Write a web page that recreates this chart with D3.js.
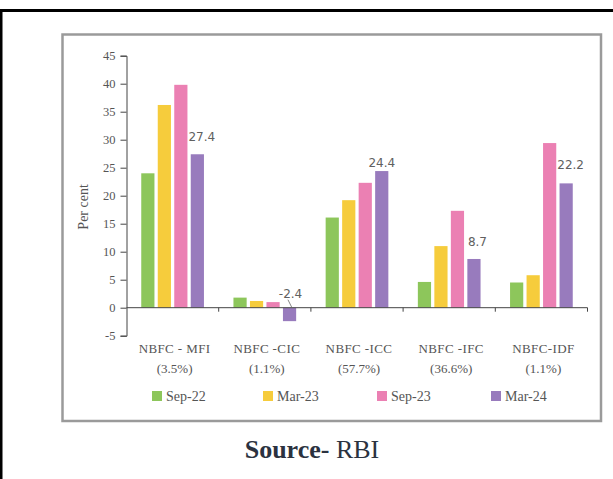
<!DOCTYPE html>
<html><head><meta charset="utf-8">
<script src="https://cdn.jsdelivr.net/npm/d3@7/dist/d3.min.js"></script>
<style>html,body{margin:0;padding:0;background:#fff;}svg{display:block;}</style>
</head><body>
<svg id="c" width="613" height="479"></svg>
<script>
const categories = ["NBFC - MFI", "NBFC -CIC", "NBFC -ICC", "NBFC -IFC", "NBFC-IDF"];
const shares = ["(3.5%)", "(1.1%)", "(57.7%)", "(36.6%)", "(1.1%)"];
const seriesNames = ["Sep-22", "Mar-23", "Sep-23", "Mar-24"];
const sep22 = [24.0, 1.8, 16.1, 4.6, 4.5];
const mar23 = [36.2, 1.2, 19.2, 11.0, 5.8];
const sep23 = [39.8, 1.0, 22.3, 17.3, 29.4];
const mar24 = [27.4, -2.4, 24.4, 8.7, 22.2];
const yTicks = [-5, 0, 5, 10, 15, 20, 25, 30, 35, 40, 45];
const labelTexts = ["27.4", "-2.4", "24.4", "8.7", "22.2"];

const seriesValues = [sep22, mar23, sep23, mar24];
const colors = ["#8dc65b", "#f6cc3c", "#eb80b3", "#987bbd"];

const svg = d3.select("#c");

// outer black frame (top and left)
svg.append("rect").attr("x", 0).attr("y", 9).attr("width", 613).attr("height", 3).attr("fill", "#000");
svg.append("rect").attr("x", 0).attr("y", 9).attr("width", 2.5).attr("height", 470).attr("fill", "#000");

// inner grey box
svg.append("rect").attr("x", 62.5).attr("y", 34.5).attr("width", 538.5).attr("height", 386.5)
  .attr("fill", "none").attr("stroke", "#9a9a9a").attr("stroke-width", 2.5);

const x0 = d3.scaleBand().domain(categories).range([126.5, 587.5]).paddingInner(0).paddingOuter(0);
const x1 = d3.scaleBand().domain(seriesNames).range([0, x0.bandwidth()]).paddingInner(0.2).paddingOuter(0.894);
const y = d3.scaleLinear().domain([-5, 45]).range([335.7, 55.7]);

const serif = "'Liberation Serif', 'DejaVu Serif', serif";
const txtCol = "#555";

// bars
seriesNames.forEach((s, si) => {
  svg.append("g").selectAll("rect").data(categories).join("rect")
    .attr("x", c => x0(c) + x1(s))
    .attr("width", x1.bandwidth())
    .attr("y", (c, i) => y(Math.max(0, seriesValues[si][i])))
    .attr("height", (c, i) => Math.abs(y(seriesValues[si][i]) - y(0)))
    .attr("fill", colors[si]);
});

// y axis
const yAxis = svg.append("g").attr("transform", "translate(126.5,0)")
  .call(d3.axisLeft(y).tickValues(yTicks).tickSize(6).tickSizeOuter(6).tickPadding(5).tickFormat(d => String(d)));
yAxis.selectAll("path,line").attr("stroke", "#444");
yAxis.selectAll("text").attr("font-family", serif).attr("font-size", 12.5).attr("fill", txtCol);

// x axis at zero
const xa = svg.append("g");
xa.append("line").attr("x1", 126.5).attr("x2", 587.5).attr("y1", y(0)).attr("y2", y(0)).attr("stroke", "#444");
const bounds = categories.map(c => x0(c) + x0.bandwidth());
xa.selectAll(".tk").data(bounds).join("line").attr("class", "tk")
  .attr("x1", d => d).attr("x2", d => d).attr("y1", y(0)).attr("y2", y(0) + 4).attr("stroke", "#444");

// y title
svg.append("text").attr("transform", `translate(88,${y(18)}) rotate(-90)`)
  .attr("text-anchor", "middle").attr("font-family", serif).attr("font-size", 14).attr("fill", txtCol)
  .text("Per cent");

// category labels
const cl = svg.append("g").selectAll("text").data(categories).join("text")
  .attr("x", c => x0(c) + x0.bandwidth() / 2 + 2)
  .attr("text-anchor", "middle").attr("font-family", serif).attr("font-size", 13).attr("fill", txtCol);
cl.append("tspan").attr("x", c => x0(c) + x0.bandwidth() / 2 + 2).attr("y", 353).attr("letter-spacing", 0.4).text(c => c);
cl.append("tspan").attr("x", c => x0(c) + x0.bandwidth() / 2 + 2).attr("y", 373).text((c, i) => shares[i]);

// data labels on Mar-24 bars
const labDx = [4.5, 1, 0, 3.5, 4.5];
const labDy = [-13, -10, -4, -13, -14];
svg.append("g").selectAll("text").data(categories).join("text")
  .attr("x", (c, i) => x0(c) + x1("Mar-24") + x1.bandwidth() / 2 + labDx[i])
  .attr("y", (c, i) => y(Math.max(0, mar24[i])) + labDy[i])
  .attr("text-anchor", "middle").attr("font-family", "'DejaVu Sans', sans-serif").attr("font-size", 12)
  .attr("fill", "#606060").text((c, i) => labelTexts[i]);
// leader line for negative label
svg.append("line")
  .attr("x1", x0(categories[1]) + x1("Mar-24") + 5).attr("y1", y(0) - 8)
  .attr("x2", x0(categories[1]) + x1("Mar-24") + 9).attr("y2", y(0))
  .attr("stroke", "#666").attr("stroke-width", 0.8);

// legend
const legX = [152, 263, 377, 491];
const lg = svg.append("g").selectAll("g").data(seriesNames).join("g")
  .attr("transform", (s, i) => `translate(${legX[i]},396)`);
lg.append("rect").attr("x", 0).attr("y", -5).attr("width", 10).attr("height", 10).attr("fill", (s, i) => colors[i]);
lg.append("text").attr("x", 14).attr("y", 5).attr("font-family", serif).attr("font-size", 14).attr("fill", txtCol).text(s => s);

// source
const src = svg.append("text").attr("x", 312).attr("y", 458).attr("text-anchor", "middle")
  .attr("font-family", serif).attr("font-size", 26).attr("fill", "#2b3240");
src.append("tspan").attr("font-weight", "bold").text("Source-");
src.append("tspan").text(" RBI");
</script>
</body></html>
